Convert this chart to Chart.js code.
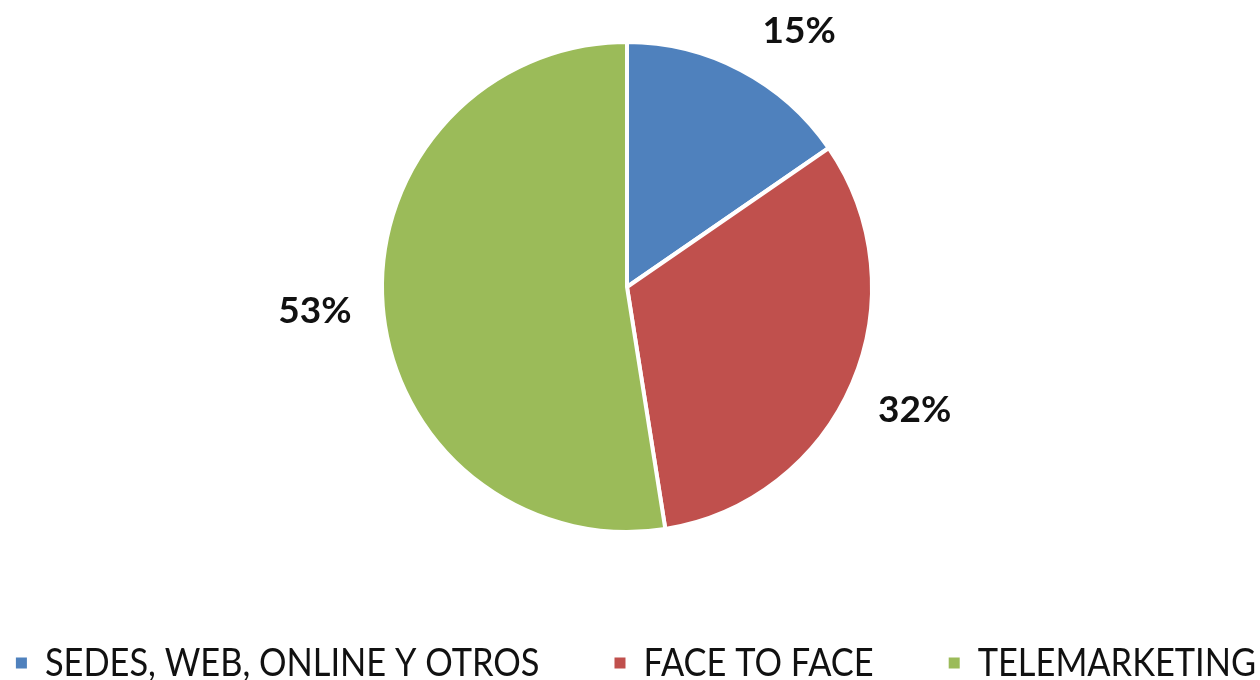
<!DOCTYPE html>
<html>
<head>
<meta charset="utf-8">
<script src="https://cdn.jsdelivr.net/npm/chart.js@4.4.0/dist/chart.umd.min.js"></script>
<style>
html,body{margin:0;padding:0;background:#fff;}
#wrap{width:1260px;height:680px;}
</style>
</head>
<body>
<div id="wrap"><canvas id="c" width="1260" height="680"></canvas></div>
<script>
const categories = ["SEDES, WEB, ONLINE Y OTROS", "FACE TO FACE", "TELEMARKETING"];
const values = [15.4, 32.1, 52.5];
const colors = ["#4F81BD", "#C0504D", "#9BBB59"];

const FONT = "Lato, 'Liberation Sans', sans-serif";

const outsideLabels = {
  id: 'outsideLabels',
  afterDatasetsDraw(chart) {
    const ctx = chart.ctx;
    const meta = chart.getDatasetMeta(0);
    const data = chart.data.datasets[0].data;
    const total = data.reduce((a, b) => a + b, 0);
    ctx.save();
    ctx.font = "bold 37px " + FONT;
    ctx.fillStyle = "#111";
    ctx.textAlign = "center";
    ctx.textBaseline = "middle";
    meta.data.forEach((arc, i) => {
      const p = arc.getProps(['x', 'y', 'startAngle', 'endAngle', 'outerRadius'], true);
      const mid = (p.startAngle + p.endAngle) / 2;
      const d = p.outerRadius + 68;
      let lx = p.x + Math.cos(mid) * d;
      let ly = p.y + Math.sin(mid) * d;
      const minY = 31;
      if (ly < minY) {
        const dy = minY - p.y;
        const dx = Math.sqrt(Math.max(d * d - dy * dy, 0));
        lx = p.x + (Math.cos(mid) >= 0 ? dx : -dx) - 8;
        ly = minY;
      }
      const pct = Math.round(data[i] / total * 100) + "%";
      ctx.fillText(pct, lx, ly);
    });
    ctx.restore();
  }
};

const bottomLegend = {
  id: 'bottomLegend',
  afterDraw(chart) {
    const ctx = chart.ctx;
    const labels = chart.data.labels;
    const bg = chart.data.datasets[0].backgroundColor;
    ctx.save();
    ctx.font = "38px " + FONT;
    const sx = 0.905;
    const box = 11, gapText = 18, gapItem = 75;
    const widths = labels.map(t => ctx.measureText(t).width * sx);
    const total = widths.reduce((a, w) => a + box + gapText + w, 0) + gapItem * (labels.length - 1);
    let x = 636 - total / 2;
    const y = 663;
    ctx.textBaseline = "middle";
    ctx.textAlign = "left";
    labels.forEach((t, i) => {
      ctx.fillStyle = bg[i];
      ctx.fillRect(x, y - box / 2, box, box);
      ctx.fillStyle = "#111";
      ctx.save();
      ctx.translate(x + box + gapText, y + 1);
      ctx.scale(sx, 1);
      ctx.fillText(t, 0, 0);
      ctx.restore();
      x += box + gapText + widths[i] + gapItem;
    });
    ctx.restore();
  }
};

new Chart(document.getElementById('c'), {
  type: 'pie',
  data: {
    labels: categories,
    datasets: [{
      data: values,
      backgroundColor: colors,
      borderColor: '#ffffff',
      borderWidth: 4,
      hoverOffset: 0
    }]
  },
  options: {
    responsive: false,
    animation: false,
    layout: { padding: { top: 40, bottom: 146, left: 0, right: 6 } },
    plugins: {
      legend: { display: false },
      tooltip: { enabled: false }
    }
  },
  plugins: [outsideLabels, bottomLegend]
});
</script>
</body>
</html>
